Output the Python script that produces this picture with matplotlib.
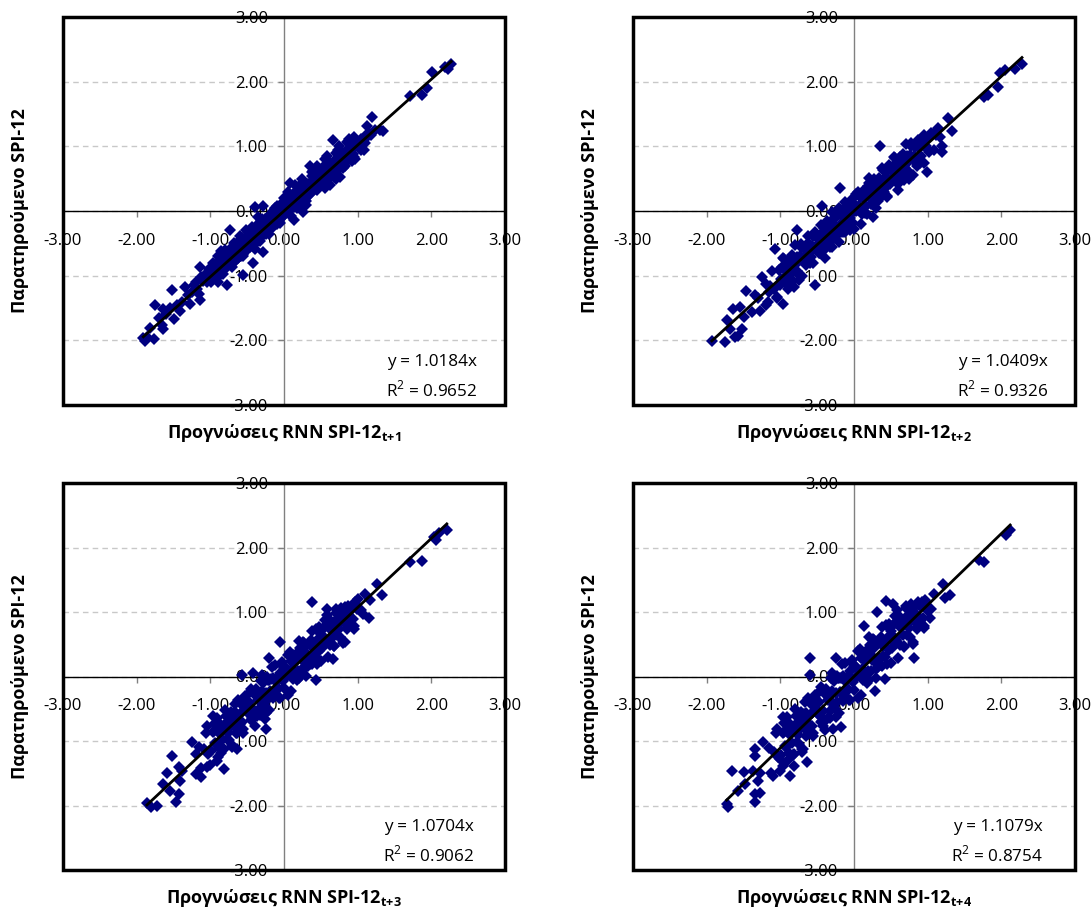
import numpy as np
import matplotlib.pyplot as plt
from matplotlib.patches import Rectangle

plt.rcParams['font.family'] = ['Open Sans', 'DejaVu Sans']
plt.rcParams['mathtext.fontset'] = 'custom'
plt.rcParams['mathtext.rm'] = 'Open Sans'
plt.rcParams['mathtext.bf'] = 'Open Sans:bold'

pts_t1 = [
    (2.27, 2.28), (2.22, 2.20), (2.19, 2.23), (2.01, 2.15), (1.94, 1.90), (1.88, 1.80), (1.71, 1.78),
    (1.35, 1.23), (1.30, 1.25), (1.20, 1.46), (1.12, 1.32), (1.15, 1.20), (1.08, 0.95), (1.05, 1.12),
    (1.00, 1.05), (0.96, 0.80), (0.95, 1.15), (0.92, 1.00), (0.88, 0.93), (0.85, 1.06), (0.83, 0.70),
    (0.80, 0.90), (0.78, 0.82), (0.76, 0.53), (0.73, 0.95), (0.70, 0.76), (0.67, 1.10), (0.66, 0.65),
    (0.62, 0.40), (0.60, 0.72), (0.58, 0.60), (0.55, 0.80), (0.52, 0.55), (0.50, 0.62), (0.48, 0.45),
    (0.45, 0.70), (0.42, 0.50), (0.40, 0.38), (0.38, 0.60), (0.35, 0.69), (0.33, 0.30), (0.30, 0.42),
    (0.28, 0.25), (0.26, -0.01), (0.25, 0.50), (0.22, 0.35), (0.20, 0.15), (0.18, 0.28), (0.15, 0.40),
    (0.13, -0.14), (0.12, 0.10), (0.10, 0.22), (0.08, 0.44), (0.06, 0.05), (0.05, 0.30), (0.03, 0.12),
    (0.02, -0.05), (0.00, 0.20), (-0.02, 0.02), (-0.03, -0.10), (-0.05, 0.10), (-0.07, -0.15),
    (-0.08, -0.02), (-0.10, -0.20), (-0.12, 0.05), (-0.14, -0.10), (-0.16, -0.25), (-0.18, -0.05),
    (-0.20, -0.30), (-0.22, -0.15), (-0.25, -0.35), (-0.28, 0.07), (-0.28, -0.63), (-0.30, -0.20),
    (-0.32, -0.42), (-0.35, -0.28), (-0.38, -0.50), (-0.39, 0.06), (-0.40, -0.35), (-0.42, -0.81),
    (-0.44, -0.25), (-0.46, -0.55), (-0.48, -0.40), (-0.50, -0.60), (-0.52, -0.30), (-0.55, -0.99),
    (-0.55, -0.50), (-0.58, -0.70), (-0.60, -0.45), (-0.62, -0.62), (-0.65, -0.75), (-0.68, -0.50),
    (-0.70, -0.80), (-0.73, -0.30), (-0.75, -0.68), (-0.78, -1.15), (-0.78, -0.85), (-0.80, -0.60),
    (-0.83, -0.90), (-0.86, -0.75), (-0.88, -1.00), (-0.90, -0.70), (-0.93, -0.95), (-0.96, -0.80),
    (-1.00, -1.05), (-1.02, -0.90), (-1.05, -1.10), (-1.08, -1.00), (-1.12, -1.02), (-1.14, -0.87),
    (-1.14, -1.38), (-1.18, -1.20), (-1.22, -1.15), (-1.28, -1.44), (-1.30, -1.30), (-1.34, -1.18),
    (-1.38, -1.40), (-1.41, -1.54), (-1.45, -1.45), (-1.50, -1.67), (-1.52, -1.22), (-1.55, -1.50),
    (-1.60, -1.60), (-1.64, -1.51), (-1.64, -1.82), (-1.66, -1.77), (-1.70, -1.65), (-1.75, -1.46),
    (-1.77, -1.98), (-1.82, -1.81), (-1.86, -1.95), (-1.89, -2.01), (-1.91, -1.96),
    (-1.06, -0.98), (-1.00, -0.92), (-0.97, -1.02), (-0.94, -0.85), (-0.91, -0.98), (-0.89, -0.82),
    (-0.85, -0.95), (-0.84, -0.70), (-0.81, -0.88), (-0.79, -0.72), (-0.76, -0.80), (-0.74, -0.62),
    (-0.72, -0.76), (-0.70, -0.55), (-0.67, -0.70), (-0.66, -0.58), (-0.63, -0.72), (-0.61, -0.52),
    (-0.59, -0.63), (-0.57, -0.42), (-0.54, -0.60), (-0.53, -0.45), (-0.51, -0.52), (-0.49, -0.32),
    (-0.47, -0.48), (-0.45, -0.42), (-0.43, -0.50), (-0.41, -0.28), (-0.39, -0.40), (-0.37, -0.35),
    (-0.36, -0.22), (-0.34, -0.38), (-0.33, -0.30), (-0.31, -0.15), (-0.29, -0.32), (-0.27, -0.25),
    (-0.26, -0.12), (-0.24, -0.28), (-0.23, -0.20), (-0.21, -0.08), (-0.19, -0.22), (-0.17, -0.15),
    (-0.15, 0.00), (-0.13, -0.18), (-0.11, -0.08), (-0.09, 0.05), (-0.06, -0.06), (-0.04, 0.02),
    (-0.01, -0.04), (0.01, 0.08), (0.04, 0.00), (0.07, 0.15), (0.09, 0.06), (0.11, 0.20), (0.14, 0.12),
    (0.16, 0.22), (0.19, 0.16), (0.21, 0.28), (0.23, 0.18), (0.27, 0.32), (0.29, 0.36), (0.31, 0.26),
    (0.34, 0.40), (0.36, 0.33), (0.39, 0.46), (0.41, 0.42), (0.44, 0.38), (0.46, 0.52), (0.49, 0.50),
    (0.51, 0.46), (0.53, 0.60), (0.56, 0.52), (0.59, 0.66), (0.61, 0.56), (0.64, 0.70), (0.65, 0.62),
    (0.68, 0.74), (0.71, 0.66), (0.74, 0.78), (0.77, 0.72), (0.79, 0.86), (0.81, 0.76), (0.84, 0.88),
    (0.87, 0.82), (0.90, 0.95), (0.93, 0.88), (0.97, 1.00), (1.02, 0.98), (1.06, 1.08), (1.10, 1.05),
    (1.13, 1.15), (1.18, 1.18), (1.24, 1.26),
    (-0.95, -0.88), (-0.87, -0.78), (-0.83, -0.82), (-0.77, -0.66), (-0.71, -0.72), (-0.69, -0.60),
    (-0.64, -0.65), (-0.60, -0.55), (-0.56, -0.66), (-0.52, -0.42), (-0.48, -0.55), (-0.44, -0.36),
    (-0.41, -0.46), (-0.38, -0.30), (-0.35, -0.42), (-0.31, -0.24), (-0.27, -0.32), (-0.24, -0.18),
    (-0.21, -0.26), (-0.18, -0.12), (-0.14, -0.22), (-0.11, -0.02), (-0.07, -0.10), (-0.04, 0.06),
    (-0.01, -0.08), (0.03, 0.10), (0.06, -0.02), (0.09, 0.18), (0.13, 0.06), (0.17, 0.25), (0.20, 0.10),
    (0.24, 0.30), (0.28, 0.18), (0.32, 0.38), (0.37, 0.28), (0.41, 0.50), (0.45, 0.36), (0.50, 0.56),
    (0.54, 0.44), (0.59, 0.62), (0.63, 0.52), (0.68, 0.78), (0.72, 0.62), (0.77, 0.85), (0.82, 0.72),
    (0.86, 0.95), (0.91, 0.82), (0.98, 1.08), (1.04, 0.95), (1.11, 1.18),
    (-1.25, -1.25), (-1.20, -1.10), (-1.16, -1.28), (-1.10, -1.08), (-1.03, -0.98), (-0.99, -1.10),
    (0.58, 0.85), (0.75, 1.00), (0.88, 1.12), (0.40, 0.62), (0.15, 0.30), (-0.10, 0.08), (-0.35, -0.10),
    (-0.60, -0.38), (-0.85, -0.62), (0.30, 0.10), (0.55, 0.35), (0.70, 0.50), (0.92, 0.78),
    (-0.950, -0.82), (-0.925, -0.97), (-0.900, -1.10), (-0.875, -0.78), (-0.850, -0.82),
    (-0.825, -0.97), (-0.800, -0.64), (-0.775, -0.86), (-0.750, -0.76), (-0.725, -0.62),
    (-0.700, -0.87), (-0.675, -0.61), (-0.650, -0.76), (-0.625, -0.48), (-0.600, -0.66),
    (-0.575, -0.55), (-0.550, -0.70), (-0.525, -0.41), (-0.500, -0.44), (-0.475, -0.51),
    (-0.450, -0.31), (-0.425, -0.46), (-0.400, -0.59), (-0.375, -0.27), (-0.350, -0.31),
    (-0.325, -0.46), (-0.300, -0.13), (-0.275, -0.35), (-0.250, -0.25), (-0.225, -0.11),
    (-0.200, -0.36), (-0.175, -0.10), (-0.150, -0.25), (-0.125, 0.03), (-0.100, -0.15),
    (-0.075, -0.04), (-0.050, -0.19), (-0.025, 0.10), (0.000, 0.07), (0.025, 0.01), (0.050, 0.20),
    (0.075, 0.05), (0.100, -0.08), (0.125, 0.24), (0.150, 0.20), (0.175, 0.05), (0.200, 0.38),
    (0.225, 0.16), (0.250, 0.27), (0.275, 0.40), (0.300, 0.15), (0.325, 0.41), (0.350, 0.26),
    (0.375, 0.54), (0.400, 0.36), (0.425, 0.47), (0.450, 0.32), (0.475, 0.62), (0.500, 0.58),
    (0.525, 0.52), (0.550, 0.71), (0.575, 0.56), (0.600, 0.43), (0.625, 0.75), (0.650, 0.71),
    (0.675, 0.56), (0.700, 0.89), (0.725, 0.67), (0.750, 0.78), (0.775, 0.91), (0.800, 0.66),
    (0.825, 0.92), (0.850, 0.77), (0.875, 1.05), (0.900, 0.87), (0.925, 0.98), (0.950, 0.83),
]

pts_t2 = [
    (2.28, 2.28), (2.19, 2.19), (2.05, 2.18), (1.98, 2.14), (1.96, 1.91), (1.82, 1.80), (1.76, 1.77),
    (1.28, 1.44), (1.33, 1.23), (1.19, 0.91), (1.08, 1.21), (0.35, 1.00), (0.99, 0.61), (0.85, 0.69),
    (0.26, -0.09), (-0.19, 0.35), (-0.44, 0.07), (-1.07, -0.58), (-0.78, -0.30), (-0.53, -1.15),
    (-0.82, -1.17), (-0.96, -1.44), (-1.05, -1.33), (-1.25, -1.02), (-1.46, -1.23), (-1.39, -1.56),
    (-1.28, -1.54), (-1.19, -1.46), (-1.64, -1.51), (-1.55, -1.49), (-1.50, -1.64), (-1.73, -1.69),
    (-1.68, -1.82), (-1.62, -1.95), (-1.57, -1.93), (-1.52, -1.82), (-1.75, -2.03), (-1.93, -2.01),
    (-1.20, -1.13), (-1.17, -1.40), (-1.14, -1.16), (-1.11, -0.93), (-1.08, -1.20), (-1.05, -1.34),
    (-1.02, -0.91), (-0.99, -1.05), (-0.96, -0.73), (-0.93, -1.11), (-0.90, -0.87), (-0.87, -1.11),
    (-0.84, -0.68), (-0.81, -0.89), (-0.78, -0.71), (-0.75, -1.06), (-0.72, -0.51), (-0.69, -0.72),
    (-0.66, -0.80), (-0.63, -0.50), (-0.60, -0.81), (-0.57, -0.54), (-0.54, -0.35), (-0.51, -0.60),
    (-0.48, -0.65), (-0.45, -0.35), (-0.42, -0.62), (-0.39, -0.38), (-0.36, -0.15), (-0.33, -0.42),
    (-0.30, -0.56), (-0.27, -0.13), (-0.24, -0.27), (-0.21, 0.05), (-0.18, -0.33), (-0.15, -0.09),
    (-0.12, -0.33), (-0.09, 0.10), (-0.06, -0.11), (-0.03, 0.07), (0.00, -0.28), (0.03, 0.27),
    (0.06, 0.06), (0.09, -0.02), (0.12, 0.29), (0.15, -0.03), (0.18, 0.24), (0.21, 0.43), (0.24, 0.18),
    (0.27, 0.13), (0.30, 0.43), (0.33, 0.16), (0.36, 0.40), (0.39, 0.63), (0.42, 0.36), (0.45, 0.22),
    (0.48, 0.65), (0.51, 0.51), (0.54, 0.83), (0.57, 0.45), (0.60, 0.69), (0.63, 0.45), (0.66, 0.88),
    (0.69, 0.67), (0.72, 0.85), (0.75, 0.50), (0.78, 1.05), (0.81, 0.84), (0.84, 0.76), (0.87, 1.07),
    (0.90, 0.75), (0.93, 1.02), (0.96, 1.15), (0.99, 0.96), (1.02, 0.91), (1.05, 1.21), (1.08, 0.94),
    (1.11, 1.18), (1.14, 1.28), (1.17, 1.14), (1.20, 1.00),
    (-1.005, -1.15), (-0.975, -0.86), (-0.945, -1.03), (-0.915, -0.82), (-0.885, -0.88),
    (-0.855, -0.97), (-0.825, -0.75), (-0.795, -0.83), (-0.765, -0.97), (-0.735, -0.69),
    (-0.705, -0.76), (-0.675, -0.57), (-0.645, -0.82), (-0.615, -0.59), (-0.585, -0.71),
    (-0.555, -0.39), (-0.525, -0.56), (-0.495, -0.41), (-0.465, -0.65), (-0.435, -0.51),
    (-0.405, -0.27), (-0.375, -0.37), (-0.345, -0.49), (-0.315, -0.25), (-0.285, -0.13),
    (-0.255, -0.37), (-0.225, -0.08), (-0.195, -0.25), (-0.165, -0.04), (-0.135, -0.10),
    (-0.105, -0.19), (-0.075, 0.03), (-0.045, -0.05), (-0.015, -0.19), (0.015, 0.09), (0.045, 0.02),
    (0.075, 0.21), (0.105, -0.04), (0.135, 0.19), (0.165, 0.07), (0.195, 0.39), (0.225, 0.22),
    (0.255, 0.37), (0.285, 0.13), (0.315, 0.27), (0.345, 0.51), (0.375, 0.41), (0.405, 0.29),
    (0.435, 0.53), (0.465, 0.65), (0.495, 0.41), (0.525, 0.70), (0.555, 0.53), (0.585, 0.74),
    (0.615, 0.68), (0.645, 0.59), (0.675, 0.81), (0.705, 0.73), (0.735, 0.59), (0.765, 0.87),
    (0.795, 0.80), (0.825, 0.99), (0.855, 0.74), (0.885, 0.97), (0.915, 0.85), (0.945, 1.17),
    (0.975, 1.00), (1.005, 1.15),
    (-1.15, -1.25), (-1.30, -1.35), (-1.35, -1.30), (-0.91, -0.95), (-0.67, -0.70), (-0.41, -0.42),
    (-0.17, -0.20), (0.07, 0.08), (0.31, 0.33), (0.57, 0.60), (0.81, 0.85), (-0.55, -0.58),
    (-0.950, -0.74), (-0.925, -1.01), (-0.900, -1.20), (-0.875, -0.73), (-0.850, -0.80),
    (-0.825, -1.08), (-0.800, -0.53), (-0.775, -0.93), (-0.750, -0.76), (-0.725, -0.55),
    (-0.700, -1.00), (-0.675, -0.57), (-0.650, -0.84), (-0.625, -0.38), (-0.600, -0.71),
    (-0.575, -0.54), (-0.550, -0.81), (-0.525, -0.33), (-0.500, -0.41), (-0.475, -0.52),
    (-0.450, -0.22), (-0.425, -0.49), (-0.400, -0.72), (-0.375, -0.21), (-0.350, -0.28),
    (-0.325, -0.56), (-0.300, -0.01), (-0.275, -0.41), (-0.250, -0.24), (-0.225, -0.03),
    (-0.200, -0.48), (-0.175, -0.05), (-0.150, -0.32), (-0.125, 0.14), (-0.100, -0.19),
    (-0.075, -0.02), (-0.050, -0.29), (-0.025, 0.19), (0.000, 0.11), (0.025, 0.00), (0.050, 0.30),
    (0.075, 0.03), (0.100, -0.20), (0.125, 0.31), (0.150, 0.24), (0.175, -0.04), (0.200, 0.51),
    (0.225, 0.11), (0.250, 0.28), (0.275, 0.49), (0.300, 0.04), (0.325, 0.47), (0.350, 0.20),
    (0.375, 0.66), (0.400, 0.33), (0.425, 0.50), (0.450, 0.23), (0.475, 0.71), (0.500, 0.63),
    (0.525, 0.52), (0.550, 0.82), (0.575, 0.55), (0.600, 0.32), (0.625, 0.83), (0.650, 0.76),
    (0.675, 0.48), (0.700, 1.03), (0.725, 0.63), (0.750, 0.80), (0.775, 1.01), (0.800, 0.56),
    (0.825, 0.99), (0.850, 0.72), (0.875, 1.10), (0.900, 0.85), (0.925, 1.02), (0.950, 0.75),
]

pts_t3 = [
    (2.21, 2.27), (2.10, 2.22), (2.03, 2.17), (2.07, 2.11), (1.87, 1.79), (1.71, 1.77), (1.26, 1.44),
    (1.33, 1.26), (1.17, 1.18), (1.10, 1.28), (1.16, 0.91), (0.38, 1.15), (0.58, 1.05), (0.44, -0.05),
    (0.67, 0.27), (0.83, 0.53), (-0.05, 0.53), (-0.21, 0.28), (-0.57, 0.02), (-0.42, 0.06),
    (-0.96, -0.61), (-1.05, -0.76), (-1.25, -1.01), (-1.19, -1.20), (-1.19, -1.51), (-1.12, -1.56),
    (-1.05, -1.41), (-0.91, -1.31), (-0.82, -1.44), (-0.85, -1.18), (-0.64, -1.12), (-1.52, -1.23),
    (-1.59, -1.49), (-1.43, -1.41), (-1.39, -1.46), (-1.41, -1.62), (-1.64, -1.67), (-1.55, -1.77),
    (-1.43, -1.82), (-1.46, -1.95), (-1.86, -1.96), (-1.80, -2.03), (-1.73, -2.01), (-0.28, -0.30),
    (-0.26, -0.66), (-0.24, -0.81), (-0.64, -0.87),
    (-1.15, -1.09), (-1.12, -1.42), (-1.09, -1.13), (-1.06, -0.87), (-1.03, -1.20), (-1.00, -1.37),
    (-0.97, -0.86), (-0.94, -1.03), (-0.91, -0.65), (-0.88, -1.11), (-0.85, -0.83), (-0.82, -1.13),
    (-0.79, -0.62), (-0.76, -0.87), (-0.73, -0.66), (-0.70, -1.09), (-0.67, -0.43), (-0.64, -0.69),
    (-0.61, -0.78), (-0.58, -0.43), (-0.55, -0.82), (-0.52, -0.50), (-0.49, -0.27), (-0.46, -0.57),
    (-0.43, -0.64), (-0.40, -0.29), (-0.37, -0.62), (-0.34, -0.32), (-0.31, -0.07), (-0.28, -0.40),
    (-0.25, -0.57), (-0.22, -0.06), (-0.19, -0.22), (-0.16, 0.15), (-0.13, -0.31), (-0.10, -0.03),
    (-0.07, -0.33), (-0.04, 0.19), (-0.01, -0.07), (0.02, 0.14), (0.05, -0.29), (0.08, 0.38),
    (0.11, 0.12), (0.14, 0.02), (0.17, 0.37), (0.20, -0.02), (0.23, 0.31), (0.26, 0.53), (0.29, 0.23),
    (0.32, 0.16), (0.35, 0.51), (0.38, 0.19), (0.41, 0.48), (0.44, 0.73), (0.47, 0.40), (0.50, 0.24),
    (0.53, 0.75), (0.56, 0.58), (0.59, 0.95), (0.62, 0.49), (0.65, 0.78), (0.68, 0.48), (0.71, 0.99),
    (0.74, 0.73), (0.77, 0.94), (0.80, 0.52), (0.83, 1.08), (0.86, 0.92), (0.89, 0.82), (0.92, 1.10),
    (0.95, 0.79), (0.98, 1.11), (1.01, 1.20), (1.04, 1.03), (1.07, 0.97),
    (-0.985, -1.16), (-0.955, -0.85), (-0.925, -1.05), (-0.895, -0.82), (-0.865, -0.89),
    (-0.835, -0.98), (-0.805, -0.74), (-0.775, -0.83), (-0.745, -0.99), (-0.715, -0.69),
    (-0.685, -0.76), (-0.655, -0.56), (-0.625, -0.84), (-0.595, -0.58), (-0.565, -0.71),
    (-0.535, -0.36), (-0.505, -0.55), (-0.475, -0.40), (-0.445, -0.67), (-0.415, -0.51),
    (-0.385, -0.24), (-0.355, -0.36), (-0.325, -0.49), (-0.295, -0.23), (-0.265, -0.09),
    (-0.235, -0.36), (-0.205, -0.05), (-0.175, -0.25), (-0.145, -0.02), (-0.115, -0.08),
    (-0.085, -0.18), (-0.055, 0.06), (-0.025, -0.03), (0.005, -0.18), (0.035, 0.12), (0.065, 0.04),
    (0.095, 0.24), (0.125, -0.04), (0.155, 0.23), (0.185, 0.09), (0.215, 0.44), (0.245, 0.25),
    (0.275, 0.40), (0.305, 0.14), (0.335, 0.29), (0.365, 0.56), (0.395, 0.44), (0.425, 0.32),
    (0.455, 0.58), (0.485, 0.71), (0.515, 0.44), (0.545, 0.75), (0.575, 0.56), (0.605, 0.79),
    (0.635, 0.72), (0.665, 0.62), (0.695, 0.86), (0.725, 0.78), (0.755, 0.62), (0.785, 0.92),
    (0.815, 0.84), (0.845, 1.04), (0.875, 0.77), (0.905, 1.03), (0.935, 0.89), (0.965, 1.15),
    (0.995, 1.05),
    (-0.950, -0.73), (-0.925, -1.05), (-0.900, -1.25), (-0.875, -0.73), (-0.850, -0.82),
    (-0.825, -1.13), (-0.800, -0.52), (-0.775, -0.97), (-0.750, -0.78), (-0.725, -0.55),
    (-0.700, -1.06), (-0.675, -0.57), (-0.650, -0.88), (-0.625, -0.36), (-0.600, -0.74),
    (-0.575, -0.55), (-0.550, -0.87), (-0.525, -0.31), (-0.500, -0.41), (-0.475, -0.54),
    (-0.450, -0.19), (-0.425, -0.52), (-0.400, -0.77), (-0.375, -0.19), (-0.350, -0.29),
    (-0.325, -0.60), (-0.300, 0.02), (-0.275, -0.43), (-0.250, -0.25), (-0.225, -0.01),
    (-0.200, -0.52), (-0.175, -0.04), (-0.150, -0.34), (-0.125, 0.18), (-0.100, -0.21),
    (-0.075, -0.01), (-0.050, -0.33), (-0.025, 0.22), (0.000, 0.13), (0.025, 0.00), (0.050, 0.34),
    (0.075, 0.02), (0.100, -0.23), (0.125, 0.34), (0.150, 0.25), (0.175, -0.06), (0.200, 0.55),
    (0.225, 0.10), (0.250, 0.29), (0.275, 0.52), (0.300, 0.01), (0.325, 0.50), (0.350, 0.19),
    (0.375, 0.71), (0.400, 0.33), (0.425, 0.52), (0.450, 0.20), (0.475, 0.76), (0.500, 0.66),
    (0.525, 0.53), (0.550, 0.88), (0.575, 0.56), (0.600, 0.30), (0.625, 0.88), (0.650, 0.79),
    (0.675, 0.47), (0.700, 1.05), (0.725, 0.64), (0.750, 0.82), (0.775, 1.06), (0.800, 0.55),
    (0.825, 1.03), (0.850, 0.73), (0.875, 1.10), (0.900, 0.86), (0.925, 1.06), (0.950, 0.74),
]

pts_t4 = [
    (2.12, 2.27), (2.07, 2.19), (1.76, 1.78), (1.70, 1.80), (1.21, 1.44), (1.30, 1.26), (1.24, 1.21),
    (1.08, 1.28), (1.05, 1.05), (1.03, 0.90), (0.81, 0.28), (0.44, 1.17), (0.31, 1.00), (0.53, 1.13),
    (0.13, 0.79), (-0.60, 0.28), (-0.24, 0.28), (-0.60, 0.02), (0.42, -0.04), (0.29, -0.22),
    (-0.17, -0.79), (-0.28, -0.81), (-0.64, -1.33), (-0.69, -1.12), (-0.87, -1.54), (-0.82, -1.38),
    (-0.96, -1.38), (-1.00, -1.28), (-1.10, -1.54), (-1.23, -1.02), (-1.34, -1.12), (-1.34, -1.23),
    (-1.66, -1.46), (-1.50, -1.48), (-1.37, -1.46), (-1.28, -1.50), (-1.48, -1.67), (-1.57, -1.77),
    (-1.30, -1.62), (-1.34, -1.82), (-1.28, -1.80), (-1.34, -1.95), (-1.73, -1.98), (-1.71, -2.03),
    (-1.05, -0.81), (-0.96, -0.63), (-0.42, -0.76),
    (-1.15, -1.11), (-1.12, -1.49), (-1.09, -1.17), (-1.06, -0.87), (-1.03, -1.25), (-1.00, -1.46),
    (-0.97, -0.87), (-0.94, -1.07), (-0.91, -0.63), (-0.88, -1.18), (-0.85, -0.84), (-0.82, -1.20),
    (-0.79, -0.61), (-0.76, -0.91), (-0.73, -0.67), (-0.70, -1.17), (-0.67, -0.40), (-0.64, -0.71),
    (-0.61, -0.83), (-0.58, -0.42), (-0.55, -0.88), (-0.52, -0.51), (-0.49, -0.25), (-0.46, -0.61),
    (-0.43, -0.69), (-0.40, -0.27), (-0.37, -0.66), (-0.34, -0.34), (-0.31, -0.03), (-0.28, -0.42),
    (-0.25, -0.63), (-0.22, -0.03), (-0.19, -0.24), (-0.16, 0.20), (-0.13, -0.34), (-0.10, -0.01),
    (-0.07, -0.37), (-0.04, 0.23), (-0.01, -0.08), (0.02, 0.16), (0.05, -0.33), (0.08, 0.43),
    (0.11, 0.12), (0.14, 0.01), (0.17, 0.41), (0.20, -0.05), (0.23, 0.33), (0.26, 0.58), (0.29, 0.22),
    (0.32, 0.15), (0.35, 0.56), (0.38, 0.17), (0.41, 0.50), (0.44, 0.80), (0.47, 0.41), (0.50, 0.21),
    (0.53, 0.80), (0.56, 0.59), (0.59, 1.03), (0.62, 0.49), (0.65, 0.82), (0.68, 0.47), (0.71, 1.06),
    (0.74, 0.75), (0.77, 0.99), (0.80, 0.50), (0.83, 1.10), (0.86, 0.95), (0.89, 0.84), (0.92, 1.15),
    (0.95, 0.78), (0.98, 1.16), (1.01, 1.02),
    (-0.985, -1.22), (-0.955, -0.86), (-0.925, -1.10), (-0.895, -0.82), (-0.865, -0.91),
    (-0.835, -1.03), (-0.805, -0.75), (-0.775, -0.86), (-0.745, -1.05), (-0.715, -0.70),
    (-0.685, -0.80), (-0.655, -0.56), (-0.625, -0.89), (-0.595, -0.59), (-0.565, -0.76),
    (-0.535, -0.34), (-0.505, -0.57), (-0.475, -0.40), (-0.445, -0.71), (-0.415, -0.54),
    (-0.385, -0.23), (-0.355, -0.36), (-0.325, -0.53), (-0.295, -0.23), (-0.265, -0.07),
    (-0.235, -0.39), (-0.205, -0.03), (-0.175, -0.26), (-0.145, 0.01), (-0.115, -0.08),
    (-0.085, -0.19), (-0.055, 0.08), (-0.025, -0.03), (0.005, -0.21), (0.035, 0.13), (0.065, 0.03),
    (0.095, 0.28), (0.125, -0.06), (0.155, 0.24), (0.185, 0.08), (0.215, 0.49), (0.245, 0.26),
    (0.275, 0.44), (0.305, 0.12), (0.335, 0.29), (0.365, 0.61), (0.395, 0.47), (0.425, 0.30),
    (0.455, 0.61), (0.485, 0.76), (0.515, 0.44), (0.545, 0.81), (0.575, 0.57), (0.605, 0.84),
    (0.635, 0.75), (0.665, 0.64), (0.695, 0.91), (0.725, 0.80), (0.755, 0.62), (0.785, 0.96),
    (0.815, 0.86), (0.845, 1.11), (0.875, 0.77), (0.905, 1.07), (0.935, 0.91), (0.965, 1.18),
    (0.995, 1.09),
    (-0.950, -0.72), (-0.925, -1.10), (-0.900, -1.30), (-0.875, -0.74), (-0.850, -0.84),
    (-0.825, -1.21), (-0.800, -0.50), (-0.775, -1.02), (-0.750, -0.80), (-0.725, -0.55),
    (-0.700, -1.13), (-0.675, -0.58), (-0.650, -0.93), (-0.625, -0.34), (-0.600, -0.79),
    (-0.575, -0.56), (-0.550, -0.92), (-0.525, -0.29), (-0.500, -0.42), (-0.475, -0.57),
    (-0.450, -0.17), (-0.425, -0.54), (-0.400, -0.83), (-0.375, -0.19), (-0.350, -0.29),
    (-0.325, -0.65), (-0.300, 0.06), (-0.275, -0.47), (-0.250, -0.25), (-0.225, 0.01),
    (-0.200, -0.57), (-0.175, -0.02), (-0.150, -0.38), (-0.125, 0.21), (-0.100, -0.23),
    (-0.075, 0.00), (-0.050, -0.37), (-0.025, 0.26), (0.000, 0.14), (0.025, -0.01), (0.050, 0.39),
    (0.075, 0.01), (0.100, -0.28), (0.125, 0.37), (0.150, 0.27), (0.175, -0.10), (0.200, 0.61),
    (0.225, 0.09), (0.250, 0.31), (0.275, 0.57), (0.300, -0.02), (0.325, 0.53), (0.350, 0.18),
    (0.375, 0.77), (0.400, 0.32), (0.425, 0.55), (0.450, 0.19), (0.475, 0.82), (0.500, 0.70),
    (0.525, 0.54), (0.550, 0.94), (0.575, 0.57), (0.600, 0.28), (0.625, 0.92), (0.650, 0.82),
    (0.675, 0.46), (0.700, 1.10), (0.725, 0.65), (0.750, 0.86), (0.775, 1.12), (0.800, 0.54),
    (0.825, 1.09), (0.850, 0.73), (0.875, 1.15), (0.900, 0.88), (0.925, 1.11), (0.950, 0.75),
]

slopes = [1.0184, 1.0409, 1.0704, 1.1079]
r2_vals = [0.9652, 0.9326, 0.9062, 0.8754]
horizons = ['1', '2', '3', '4']
ticks = [-3, -2, -1, 0, 1, 2, 3]
ylabel = 'Παρατηρούμενο SPI-12'
xlabel = 'Προγνώσεις RNN SPI-12'

all_pts = [pts_t1, pts_t2, pts_t3, pts_t4]

fig = plt.figure(figsize=(10.92, 9.07), dpi=100)
W, H = 1092, 907
# plot-area boxes in pixels: left, top, right, bottom
boxes = [(63, 17, 505, 405), (633, 17, 1075, 405),
         (63, 483, 505, 870), (633, 483, 1075, 870)]
txt_right = [0.937, 0.939, 0.93, 0.928]

for i in range(4):
    l, t, r, b = boxes[i]
    ax = fig.add_axes([l / W, 1 - b / H, (r - l) / W, (b - t) / H])
    pts = np.array(all_pts[i])
    xs, ys = pts[:, 0], pts[:, 1]

    ax.set_axisbelow(True)
    ax.yaxis.grid(True, linestyle=(0, (4, 3)), color='#c8c8c8', lw=1)
    ax.plot(xs, ys, 'D', color='#000080', ms=6.2, mew=0, zorder=3)

    # trendline through origin
    xl = np.array([xs.min(), xs.max()])
    ax.plot(xl, slopes[i] * xl, color='black', lw=2, zorder=4)

    ax.set_xlim(-3, 3)
    ax.set_ylim(-3, 3)
    ax.set_xticks(ticks)
    ax.set_yticks(ticks)
    ax.xaxis.set_major_formatter(plt.FormatStrFormatter('%.2f'))
    ax.yaxis.set_major_formatter(plt.FormatStrFormatter('%.2f'))

    ax.spines['left'].set_position(('data', 0))
    ax.spines['bottom'].set_position(('data', 0))
    ax.spines['left'].set_color('#808080')
    ax.spines['bottom'].set_color('black')
    ax.spines['left'].set_linewidth(1)
    ax.spines['bottom'].set_linewidth(1)
    ax.spines['top'].set_visible(False)
    ax.spines['right'].set_visible(False)
    ax.tick_params(axis='x', direction='out', length=4.5, width=1, color='#808080',
                   pad=11, labelsize=12)
    ax.tick_params(axis='y', direction='out', length=4.5, width=1, color='#808080',
                   pad=7, labelsize=12)

    # thick frame round the plot area
    ax.add_patch(Rectangle((0, 0), 1, 1, transform=ax.transAxes, fill=False,
                           lw=2.5, edgecolor='black', clip_on=False, zorder=6))

    ax.text(txt_right[i], 0.11, 'y = %.4fx' % slopes[i], transform=ax.transAxes,
            ha='right', va='center', fontsize=12.3)
    ax.text(txt_right[i], 0.038, 'R$^{2}$ = %.4f' % r2_vals[i], transform=ax.transAxes,
            ha='right', va='center', fontsize=12.3)

    cx = (l + r) / 2
    fig.text(cx / W, 1 - (b + 28) / H,
             xlabel + r'$_{\mathbf{t{+}' + horizons[i] + '}}$',
             ha='center', va='center', fontsize=13, fontweight='bold')
    fig.text((l - 43) / W, 1 - ((t + b) / 2) / H, ylabel, rotation=90,
             ha='center', va='center', fontsize=13, fontweight='bold')

fig.savefig('out.png', dpi=100, facecolor='white')
